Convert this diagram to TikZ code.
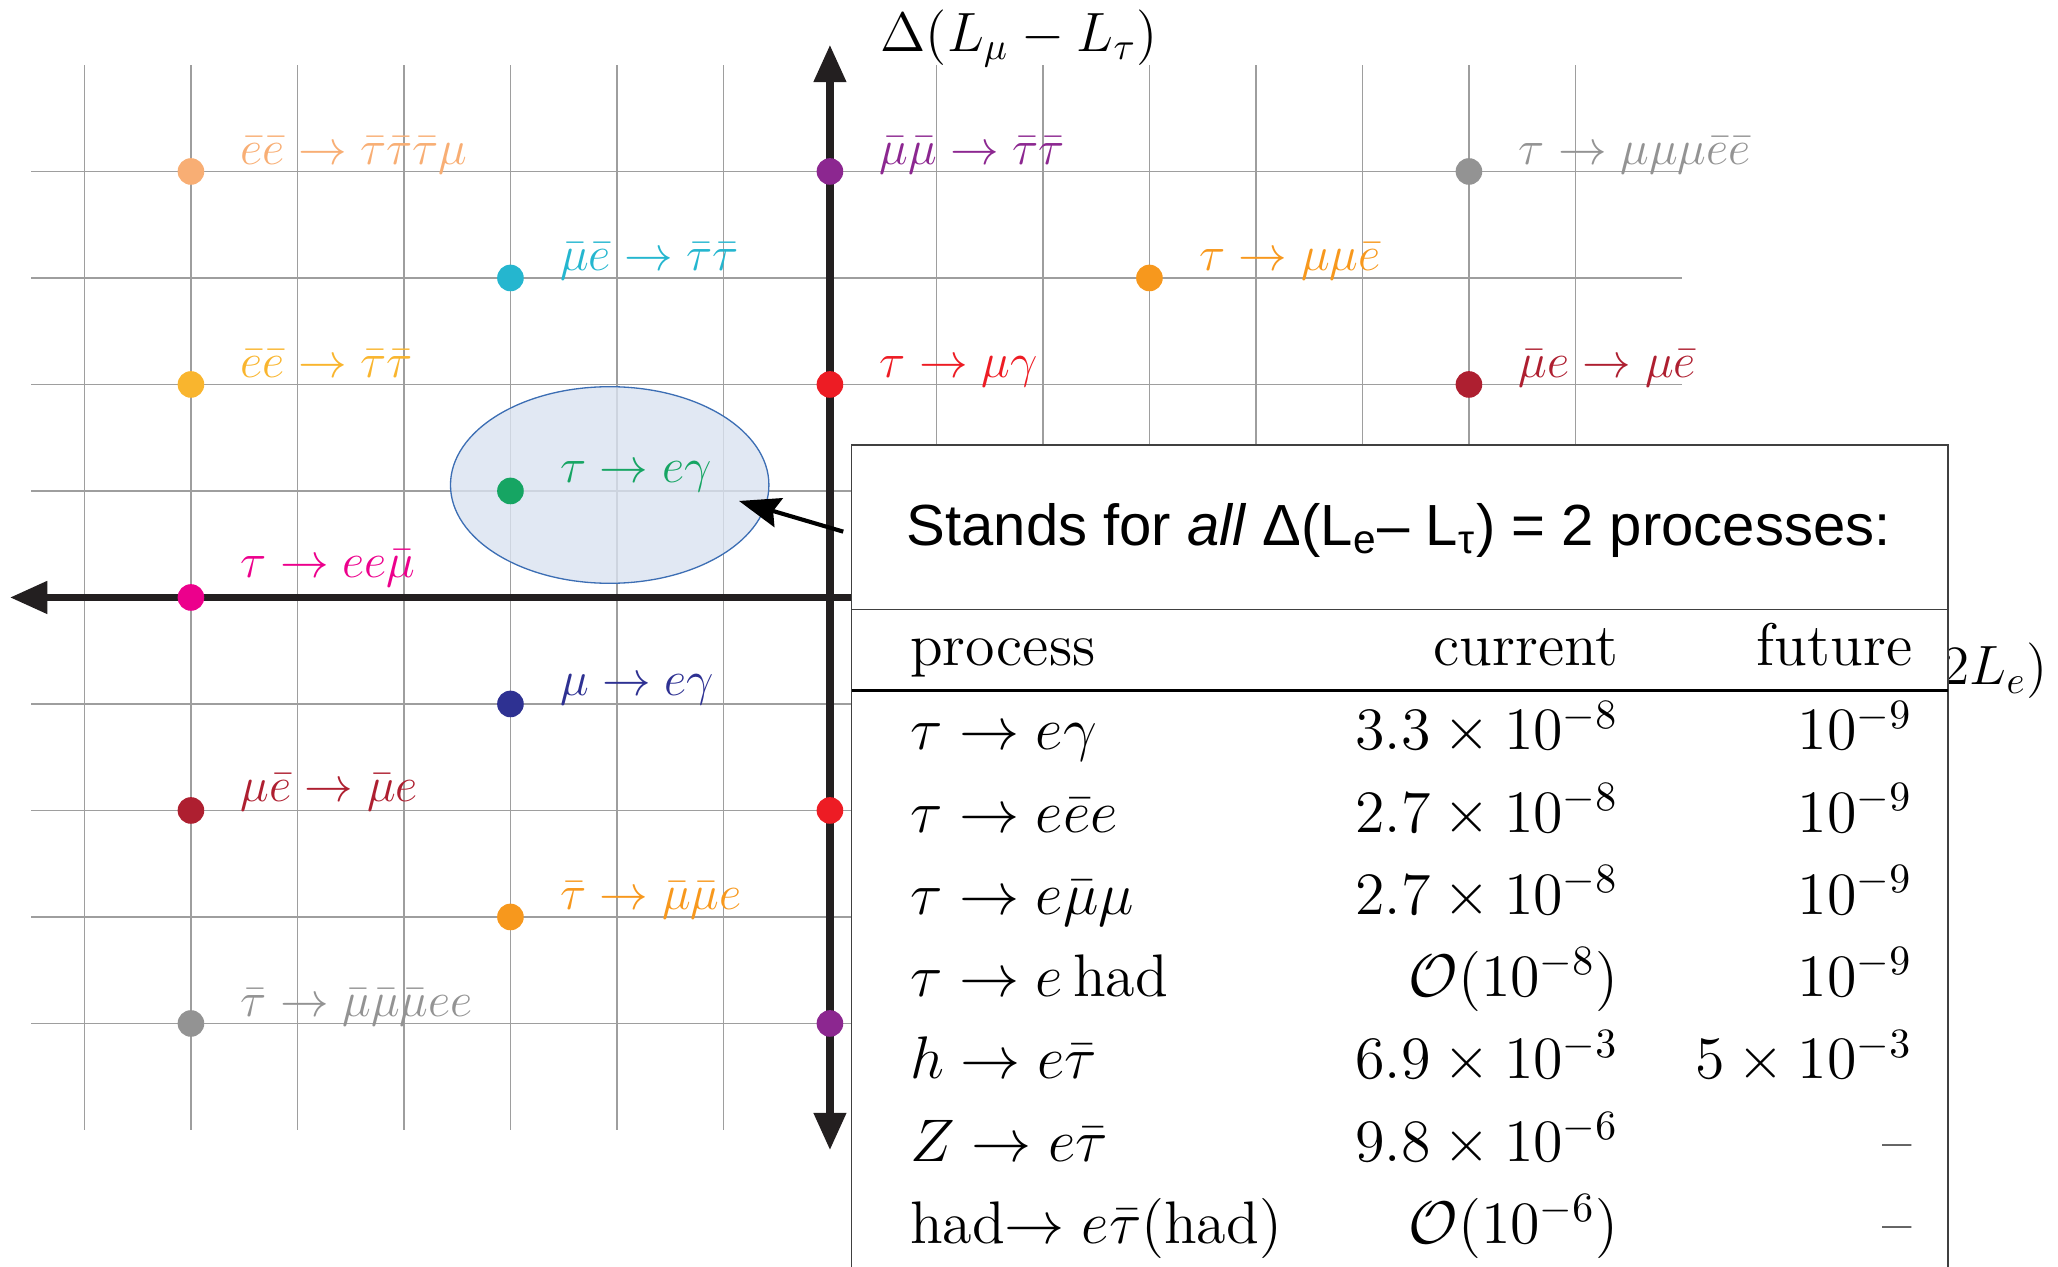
\documentclass[tikz,border=0pt]{standalone}
\usepackage{amsmath}
\usepackage{fontspec}
\setsansfont{Liberation Sans}
\usetikzlibrary{arrows.meta,shapes.geometric}
\definecolor{peachc}{HTML}{F8AE74}
\definecolor{amberc}{HTML}{F9B52E}
\definecolor{purplec}{HTML}{8C2790}
\definecolor{redc}{HTML}{ED1C24}
\definecolor{orangec}{HTML}{F7981D}
\definecolor{grayc}{HTML}{939393}
\definecolor{cyanc}{HTML}{25B6CF}
\definecolor{winec}{HTML}{AE1F30}
\definecolor{greenc}{HTML}{16A563}
\definecolor{magentac}{HTML}{EC008C}
\definecolor{navyc}{HTML}{2E3192}
\definecolor{axisdark}{HTML}{231F20}
\definecolor{ringfill}{HTML}{D9E2F0}
\definecolor{ringblue}{HTML}{3C6EB4}
\tikzset{
  gridline/.style={draw=black!38, line width=0.45pt},
  axisline/.style={draw=axisdark, line width=2pt,
    {Triangle[length=10pt,width=8.3pt]}-{Triangle[length=10pt,width=8.3pt]}},
  dot/.style={circle, fill=#1, inner sep=0pt, minimum size=0.25cm},
  proclabel/.style={anchor=base west, inner sep=0pt, text=#1, font=\large, scale=1.083},
  tabcell/.style={inner sep=0pt, font=\Large, scale=1.115},
  axlabel/.style={inner sep=0pt, font=\Large, scale=1.028},
  tabline/.style={draw=black!75, line width=0.4pt},
  pointer/.style={-{Stealth[length=11pt,width=8pt,inset=1.5pt]}, line width=1.1pt, draw=black},
  focus/.style={ellipse, draw=ringblue, line width=0.35pt, fill=ringfill, fill opacity=0.8,
    minimum width=2.99cm, minimum height=1.846cm, inner sep=0pt}
}

\begin{document}
\begin{tikzpicture}
  \useasboundingbox (-7.793,-6.286) rectangle (11.531,5.610);
  \foreach \x in {-7,...,7}
    \draw[gridline] (\x,-5) -- (\x,5);
  \foreach \y in {-4,...,4}
    \draw[gridline] (-7.5,\y) -- (8,\y);
  \node[focus] (ring) at (-2.068,1.056) {};
  \draw[axisline] (-7.7,0) -- (7.7,0);
  \draw[axisline] (0,-5.19) -- (0,5.19);
  \foreach \px/\py/\dy/\col/\nm/\txt in {
      -6/4/0.07/peachc/ee3t/{\bar e\bar e\to\bar\tau\bar\tau\bar\tau\mu},
      0/4/0.07/purplec/mmtt/{\bar\mu\bar\mu\to\bar\tau\bar\tau},
      6/4/0.07/grayc/t3mee/{\tau\to\mu\mu\mu\bar e\bar e},
      -3/3/0.07/cyanc/mett/{\bar\mu\bar e\to\bar\tau\bar\tau},
      3/3/0.07/orangec/tmme/{\tau\to\mu\mu\bar e},
      -6/2/0.07/amberc/eett/{\bar e\bar e\to\bar\tau\bar\tau},
      0/2/0.07/redc/tmg/{\tau\to\mu\gamma},
      6/2/0.07/winec/meme/{\bar\mu e\to\mu\bar e},
      -3/1/0.08/greenc/teg/{\tau\to e\gamma},
      -6/0/0.19/magentac/teem/{\tau\to ee\bar\mu},
      -3/-1/0.08/navyc/meg/{\mu\to e\gamma},
      -6/-2/0.08/winec/mebe/{\mu\bar e\to\bar\mu e},
      -3/-3/0.07/orangec/tmmb/{\bar\tau\to\bar\mu\bar\mu e},
      -6/-4/0.07/grayc/t3mb/{\bar\tau\to\bar\mu\bar\mu\bar\mu ee}} {
    \node[dot=\col] (\nm) at (\px,\py) {};
    \node[proclabel=\col] (\nm-l) at (\px+0.46,\py+\dy) {$\txt$};
  }
  \node[dot=redc] (tmgb) at (0,-2) {};
  \node[dot=purplec] (mmttb) at (0,-4) {};
  \node[axlabel, anchor=base west] (ylab) at (0.47,5.126) {$\Delta(L_\mu-L_\tau)$};
  \node[axlabel, anchor=base east] (xlab) at (11.44,-0.82) {$\Delta(L_\mu+L_\tau-2L_e)$};

  \fill[white] (0.204,-6.4) rectangle (10.498,1.432);
  \draw[tabline] (0.204,-6.4) -- (0.204,1.432) -- (10.498,1.432) -- (10.498,-6.4);
  \draw[tabline] (0.204,-0.111) -- (10.498,-0.111);
  \draw[line width=0.8pt] (0.204,-0.869) -- (10.498,-0.869);
  \node[anchor=base west, inner sep=0pt, font=\sffamily\fontsize{15.5}{18}\selectfont] (title) at (0.714,0.484)
    {Stands for \textit{all} Δ(L\textsubscript{e}– L\textsubscript{τ}) = 2 processes:};
  \node[tabcell, anchor=base west] (hproc) at (0.745,-0.64) {process};
  \node[tabcell, anchor=base east] (hcur) at (7.41,-0.64) {current};
  \node[tabcell, anchor=base east] (hfut) at (10.17,-0.64) {future};
  \foreach \i/\p/\c/\f in {
      1/{$\tau\to e\gamma$}/{$3.3\times10^{-8}$}/{$10^{-9}$},
      2/{$\tau\to e\bar ee$}/{$2.7\times10^{-8}$}/{$10^{-9}$},
      3/{$\tau\to e\bar\mu\mu$}/{$2.7\times10^{-8}$}/{$10^{-9}$},
      4/{$\tau\to e\,\mathrm{had}$}/{$\mathcal{O}(10^{-8})$}/{$10^{-9}$},
      5/{$h\to e\bar\tau$}/{$6.9\times10^{-3}$}/{$5\times10^{-3}$},
      6/{$Z\to e\bar\tau$}/{$9.8\times10^{-6}$}/{--},
      7/{had$\to e\bar\tau$(had)}/{$\mathcal{O}(10^{-6})$}/{--}} {
    \pgfmathsetmacro{\yy}{-1.432-0.772*(\i-1)}
    \node[tabcell, anchor=base west] (proc\i) at (0.745,\yy) {\p};
    \node[tabcell, anchor=base east] (cur\i) at (7.41,\yy) {\c};
    \node[tabcell, anchor=base east] (fut\i) at (10.17,\yy) {\f};
  }

  \coordinate (tail) at (0.125,0.618);
  \coordinate (tip) at (-0.854,0.906);
  \draw[pointer] (tail) -- (tip);
\end{tikzpicture}
\end{document}
